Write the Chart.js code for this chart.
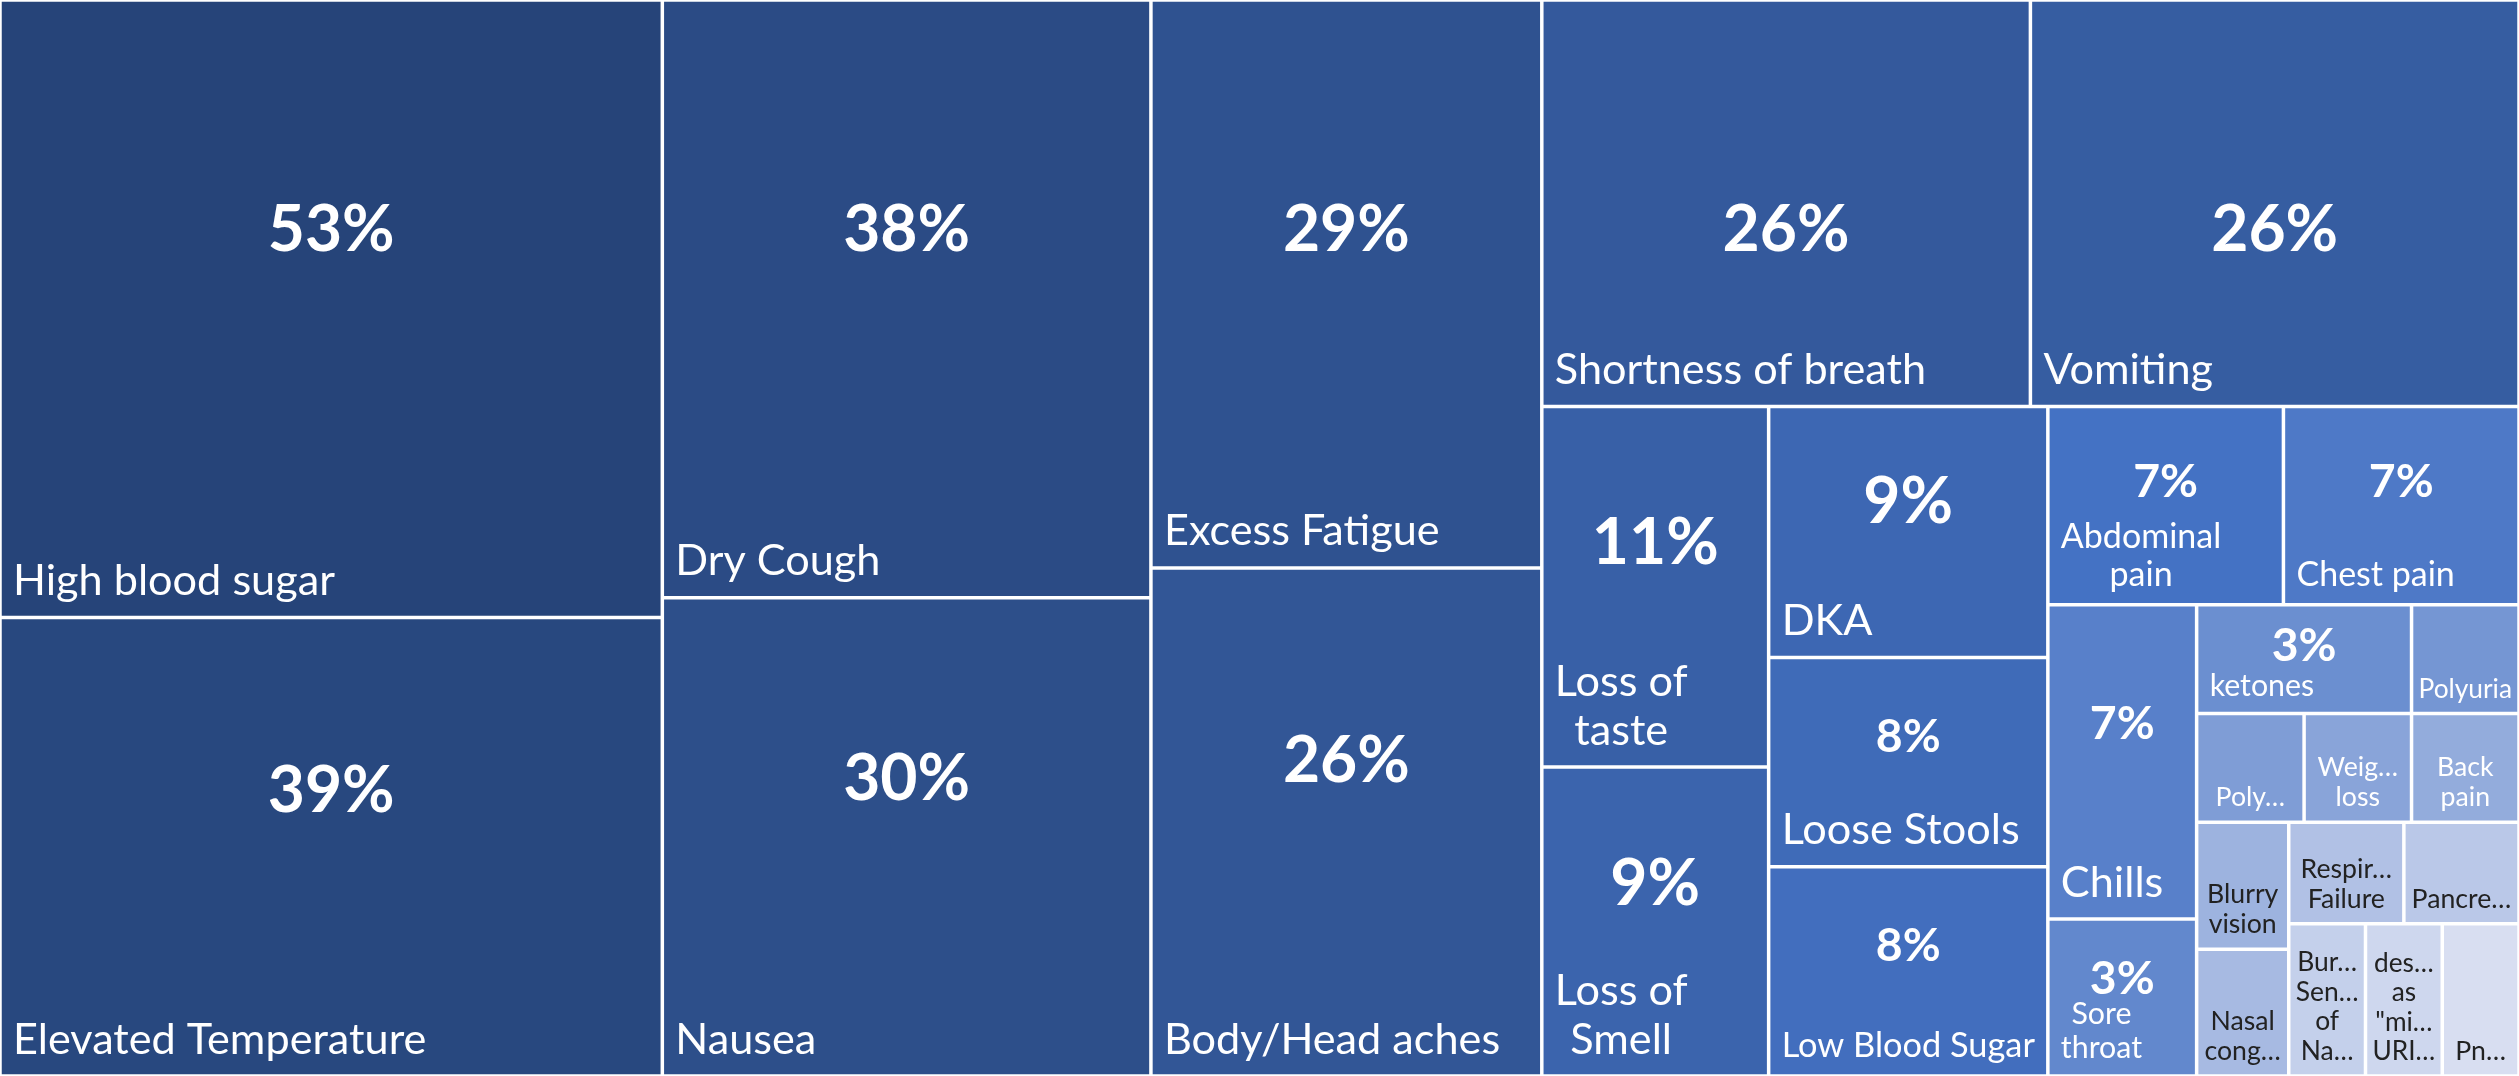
<!DOCTYPE html>
<html>
<head>
<meta charset="utf-8">
<script src="https://cdn.jsdelivr.net/npm/chart.js@4.4.1/dist/chart.umd.min.js"></script>
<style>
  html, body { margin: 0; padding: 0; background: #ffffff; overflow: hidden; }
  canvas { display: block; }
</style>
</head>
<body>
<canvas id="chart" width="2519" height="1076" style="width:2519px;height:1076px"></canvas>
<script>
// ---------------- DATA ----------------
const categories = [
  "High blood sugar", "Elevated Temperature", "Dry Cough", "Nausea",
  "Excess Fatigue", "Body/Head aches", "Shortness of breath", "Vomiting",
  "Loss of taste", "Loss of Smell", "DKA", "Loose Stools", "Low Blood Sugar",
  "Abdominal pain", "Chest pain", "Chills", "Sore throat", "ketones",
  "Polyuria", "Poly\u2026", "Weig\u2026 loss", "Back pain", "Blurry vision",
  "Nasal cong\u2026", "Respir\u2026 Failure", "Pancre\u2026",
  "Bur\u2026 Sen\u2026 of Na\u2026", "des\u2026 as \"mi\u2026 URI\u2026", "Pn\u2026"
];
// cell sizes (patient counts)
const patientCounts = [35, 26, 25, 20, 19, 17, 17, 17, 7, 6, 6, 5, 5, 4, 4, 4, 2, 2,
                       1, 1, 1, 1, 1, 1, 1, 1, 1, 1, 1];
// percentage labels shown in the cells (null = no label)
const percentLabels = [53, 39, 38, 30, 29, 26, 26, 26, 11, 9, 9, 8, 8, 7, 7, 7, 3, 3,
                       null, null, null, null, null, null, null, null, null, null, null];

// ---------------- STYLE ----------------
const FONT = 'Lato, "Open Sans", "Noto Sans", sans-serif';
const SHADE_DARK = [38, 68, 121], SHADE_BASE = [68, 114, 196], SHADE_LIGHT = [216, 222, 241];
const BASE_RANK = 13;
function cellRGB(i) {
  const n = categories.length;
  let a, b, t;
  if (i <= BASE_RANK) { a = SHADE_DARK; b = SHADE_BASE; t = i / BASE_RANK; }
  else { a = SHADE_BASE; b = SHADE_LIGHT; t = (i - BASE_RANK) / (n - 1 - BASE_RANK); }
  return a.map((v, k) => Math.round(v + (b[k] - v) * t));
}
const cellColors = categories.map((_, i) => { const c = cellRGB(i); return `rgb(${c[0]},${c[1]},${c[2]})`; });
function isLight(i) { const c = cellRGB(i); return 0.299 * c[0] + 0.587 * c[1] + 0.114 * c[2] > 174; }

// ---------------- TREEMAP LAYOUT (value space, aspect via scales) ----------------
function squarify(values, rect, xs, ys) {
  const out = new Array(values.length);
  const r = Object.assign({}, rect);
  let remaining = values.reduce((a, b) => a + b, 0);
  let i = 0;
  while (i < values.length) {
    const W = Math.abs(xs.getPixelForValue(r.x1) - xs.getPixelForValue(r.x0));
    const H = Math.abs(ys.getPixelForValue(r.y1) - ys.getPixelForValue(r.y0));
    const vertical = W >= H * 0.995;
    const side = vertical ? H : W;
    const perUnit = (W * H) / remaining;
    const lastAspect = (k) => {
      let s = 0;
      for (let j = i; j < i + k; j++) s += values[j];
      const thick = s * perUnit / side;
      const len = values[i + k - 1] * perUnit / thick;
      return Math.max(thick / len, len / thick);
    };
    let k = 1, best = lastAspect(1);
    while (i + k < values.length) {
      const a = lastAspect(k + 1);
      if (a < best) { best = a; k++; } else break;
    }
    let s = 0;
    for (let j = i; j < i + k; j++) s += values[j];
    const frac = s / remaining;
    if (vertical) {
      const cut = r.x0 + (r.x1 - r.x0) * frac;
      let y = r.y0;
      for (let j = i; j < i + k; j++) {
        const y2 = (j === i + k - 1) ? r.y1 : y + (r.y1 - r.y0) * values[j] / s;
        out[j] = { x0: r.x0, x1: cut, y0: y, y1: y2 };
        y = y2;
      }
      r.x0 = cut;
    } else {
      const cut = r.y0 + (r.y1 - r.y0) * frac;
      let x = r.x0;
      for (let j = i; j < i + k; j++) {
        const x2 = (j === i + k - 1) ? r.x1 : x + (r.x1 - r.x0) * values[j] / s;
        out[j] = { x0: x, x1: x2, y0: r.y0, y1: cut };
        x = x2;
      }
      r.y0 = cut;
    }
    remaining -= s;
    i += k;
  }
  return out;
}

class TreemapController extends Chart.DatasetController {
  static id = 'treemap';
  static defaults = { datasetElementType: false, dataElementType: 'bar' };
  static overrides = {
    scales: {
      x: { type: 'linear', display: false },
      y: { type: 'linear', display: false }
    }
  };
  update(mode) {
    const meta = this._cachedMeta;
    this.updateElements(meta.data, 0, meta.data.length, mode);
  }
  updateElements(rects, start, count, mode) {
    const meta = this._cachedMeta;
    const xs = meta.xScale, ys = meta.yScale;
    const values = this.getDataset().data;
    const cells = squarify(values, { x0: xs.min, x1: xs.max, y0: ys.min, y1: ys.max }, xs, ys);
    for (let i = start; i < start + count; i++) {
      const c = cells[i];
      const l = xs.getPixelForValue(c.x0), r = xs.getPixelForValue(c.x1);
      const t = ys.getPixelForValue(c.y0), b = ys.getPixelForValue(c.y1);
      const props = {
        x: (l + r) / 2,
        y: Math.min(t, b),
        base: Math.max(t, b),
        width: Math.abs(r - l),
        height: Math.abs(b - t),
        horizontal: false,
        inflateAmount: 0,
        borderSkipped: { top: false, bottom: false, left: false, right: false },
        options: this.resolveDataElementOptions(i, mode)
      };
      this.updateElement(rects[i], i, props, mode);
    }
  }
}
Chart.register(TreemapController);

// ---------------- LABELS ----------------
function fitPx(ctx, weight, text, targetW) {
  ctx.font = `${weight} 100px ${FONT}`;
  return 100 * targetW / ctx.measureText(text).width;
}
function wrapText(ctx, text, maxW) {
  const words = text.split(' ');
  const lines = [];
  let cur = '';
  for (const wd of words) {
    const t = cur ? cur + ' ' + wd : wd;
    if (!cur || ctx.measureText(t).width <= maxW) cur = t;
    else { lines.push(cur); cur = wd; }
  }
  if (cur) lines.push(cur);
  return lines;
}

const labelPlugin = {
  id: 'cellLabels',
  afterDatasetsDraw(chart) {
    const ctx = chart.ctx;
    const area = chart.chartArea;
    const meta = chart.getDatasetMeta(0);
    const nameBase = fitPx(ctx, 'normal', categories[0], 322);
    const pctBase = fitPx(ctx, 'bold', '53%', 127);
    const LH = 1.12;
    meta.data.forEach((el, i) => {
      const left = el.x - el.width / 2, right = el.x + el.width / 2;
      const top = Math.min(el.y, el.base), bottom = Math.max(el.y, el.base);
      const w = right - left, h = bottom - top;
      const pct = percentLabels[i];
      const hasPct = pct !== null && pct !== undefined;
      const color = isLight(i) ? '#222222' : '#ffffff';
      ctx.save();
      ctx.beginPath();
      ctx.rect(left, top, w, h);
      ctx.clip();
      ctx.fillStyle = color;

      // percentage
      if (hasPct) {
        const big = w >= 220 && h >= 225;
        const ps = big ? pctBase : pctBase * 52 / 72;
        ctx.font = `bold ${ps}px ${FONT}`;
        ctx.textAlign = 'center';
        ctx.textBaseline = 'middle';
        const atTopEdge = Math.abs(top - area.top) < 1;
        const py = atTopEdge ? top + 0.214 * (area.bottom - area.top) : top + 0.38 * h;
        ctx.fillText(pct + '%', left + w / 2, py);
      }

      // category name
      const md = Math.min(1.45 * w, h);
      let tier = md >= 205 ? 1 : md >= 180 ? 37 / 47 : md >= 130 ? 33 / 47 : 29 / 47;
      if (hasPct) tier = Math.max(tier, 33 / 47);
      let size = nameBase * tier;
      const pad = hasPct ? 13 : 7;
      const availW = w - 2 * pad;
      ctx.font = `normal ${size}px ${FONT}`;
      const name = categories[i];
      let lines;
      if (ctx.measureText(name).width <= availW) {
        lines = [name];
      } else {
        lines = wrapText(ctx, name, availW);
        const maxH = hasPct ? 0.45 * h : h - 10;
        const fitsW = lines.every(l => ctx.measureText(l).width <= availW);
        if (!(fitsW && lines.length * size * LH <= maxH)) {
          if (lines.length > 1 && lines.length * size * LH <= maxH) {
            const widest = Math.max(...lines.map(l => ctx.measureText(l).width));
            size = size * availW / widest;
          } else {
            size = size * availW / ctx.measureText(name).width;
            lines = [name];
          }
          ctx.font = `normal ${size}px ${FONT}`;
        }
      }
      ctx.textBaseline = 'alphabetic';
      ctx.textAlign = 'center';
      const lastBase = bottom - (6 + 0.38 * size);
      const blockW = Math.max(...lines.map(l => ctx.measureText(l).width));
      const cx = hasPct ? left + pad + blockW / 2 : left + w / 2;
      lines.forEach((ln, j) => {
        const yb = lastBase - (lines.length - 1 - j) * size * LH;
        ctx.fillText(ln, cx, yb);
      });
      ctx.restore();
    });
  }
};

// ---------------- CHART ----------------
new Chart(document.getElementById('chart'), {
  type: 'treemap',
  data: {
    labels: categories,
    datasets: [{
      label: 'Symptoms',
      data: patientCounts,
      backgroundColor: cellColors,
      borderColor: '#ffffff',
      borderWidth: 1.75
    }]
  },
  options: {
    responsive: false,
    devicePixelRatio: 1,
    animation: false,
    events: [],
    layout: { padding: 0 },
    scales: {
      x: { type: 'linear', display: false, min: 0, max: 100 },
      y: { type: 'linear', display: false, min: 0, max: 100, reverse: true }
    },
    plugins: { legend: { display: false }, tooltip: { enabled: false } }
  },
  plugins: [labelPlugin]
});
</script>
</body>
</html>
